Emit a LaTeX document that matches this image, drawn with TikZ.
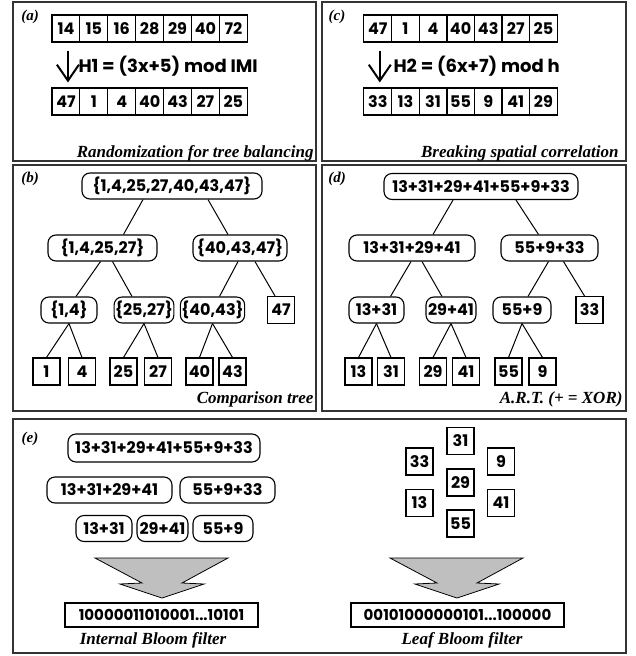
\documentclass[tikz,border=0pt]{standalone}
\usepackage{fontspec}
\setmainfont{Liberation Serif}
\newfontfamily\geofont{Poppins}
\usetikzlibrary{arrows.meta}
\tikzset{
  every picture/.style={line width=1pt},
  panel/.style={draw=black!80, line width=1.4pt},
  plabel/.style={inner sep=0pt, font=\fontsize{15}{15}\selectfont\bfseries\itshape},
  caption/.style={inner sep=0pt, font=\fontsize{17}{17}\selectfont\bfseries\itshape},
  geo/.style={font=\geofont\bfseries\fontsize{16}{16}\selectfont},
  cell/.style={geo, draw, line width=1.1pt, minimum width=27.9pt,
               minimum height=27pt, inner sep=0pt},
  leaf/.style={cell, minimum width=27pt},
  setbox/.style={geo, draw, rounded corners=8pt, line width=1.1pt,
                 minimum height=26pt, inner xsep=1pt, inner ysep=0pt},
  bitbox/.style={draw, line width=1.1pt, minimum height=24pt, inner sep=0pt,
                 font=\geofont\bfseries\fontsize{15}{15}\selectfont},
  formula/.style={anchor=west, inner sep=0pt,
                  font=\geofont\bfseries\fontsize{18}{18}\selectfont},
  downarr/.style={line width=2.2pt,
                  -{Straight Barb[length=16pt, width=22pt, line width=2pt]}},
  wedge/.style={draw, fill=black!25, line width=0.8pt, line join=miter},
}

\begin{document}
\begin{tikzpicture}[x=1pt, y=-1pt]
\useasboundingbox (0,0) rectangle (636,656);

% frames
\draw[panel] (13,2) rectangle (316,161);
\draw[panel] (322,2) rectangle (626,161);
\draw[panel] (13,165) rectangle (316,411);
\draw[panel] (322,165) rectangle (626,411);
\draw[panel] (13,419) rectangle (626,653);

\node[plabel] (labA) at (30,17) {(a)};
\node[plabel] (labC) at (337,17) {(c)};
\node[plabel] (labB) at (30,179) {(b)};
\node[plabel] (labD) at (337,179) {(d)};
\node[plabel] (labE) at (30,439) {(e)};

% (a) randomization
\foreach \v [count=\i] in {14,15,16,28,29,40,72}
  \node[cell] (inA\i) at ({52+27.9*(\i-0.5)},28.5) {\v};
\foreach \v [count=\i] in {47,1,4,40,43,27,25}
  \node[cell] (outA\i) at ({52+27.9*(\i-0.5)},101.5) {\v};
\draw[downarr] ([xshift=2pt,yshift=-8pt]inA1.south) -- ([xshift=2pt,yshift=5pt]outA1.north);
\node[formula] (hashA) at (78,66) {H1 = (3x+5) mod IMI};
\node[caption, anchor=east] (capA) at (314,153) {Randomization for tree balancing};

% (c) spatial correlation
\foreach \v [count=\i] in {47,1,4,40,43,27,25}
  \node[cell] (inC\i) at ({364+27.6*(\i-0.5)},28.5) {\v};
\foreach \v [count=\i] in {33,13,31,55,9,41,29}
  \node[cell] (outC\i) at ({364+27.6*(\i-0.5)},101.5) {\v};
\draw[downarr] ([xshift=2pt,yshift=-8pt]inC1.south) -- ([xshift=2pt,yshift=5pt]outC1.north);
\node[formula] (hashC) at (393,66) {H2 = (6x+7) mod h};
\node[caption, anchor=east] (capC) at (619,153) {Breaking spatial correlation};

% (b) comparison tree
\node[setbox, minimum width=180pt] (rootB) at (172,186) {\{1,4,25,27,40,43,47\}};
\node[setbox, minimum width=109pt] (setBL) at (102.5,248) {\{1,4,25,27\}};
\node[setbox, minimum width=94pt] (setBR) at (240,248) {\{40,43,47\}};
\node[setbox, minimum width=56pt] (setB1) at (69,310) {\{1,4\}};
\node[setbox, minimum width=56pt] (setB2) at (144,310) {\{25,27\}};
\node[setbox, minimum width=57pt] (setB3) at (212.5,310) {\{40,43\}};
\node[leaf] (leafB47) at (281,310) {47};
\node[leaf] (leafB1) at (46.5,371.5) {1};
\node[leaf] (leafB4) at (82,371.5) {4};
\node[leaf] (leafB25) at (123.5,371.5) {25};
\node[leaf] (leafB27) at (158,371.5) {27};
\node[leaf] (leafB40) at (199.5,371.5) {40};
\node[leaf] (leafB43) at (232.5,371.5) {43};
\draw ([xshift=-29pt]rootB.south) -- ([xshift=21pt]setBL.north);
\draw ([xshift=36pt]rootB.south) -- ([xshift=-12pt]setBR.north);
\draw ([xshift=-2pt]setBL.south) -- ([xshift=7pt]setB1.north);
\draw ([xshift=10pt]setBL.south) -- ([xshift=-12pt]setB2.north);
\draw ([xshift=-2pt]setBR.south) -- ([xshift=7pt]setB3.north);
\draw ([xshift=15pt]setBR.south) -- ([xshift=-6pt]leafB47.north);
\draw (setB1.south) -- (leafB1.north);
\draw (setB1.south) -- (leafB4.north);
\draw (setB2.south) -- (leafB25.north);
\draw (setB2.south) -- (leafB27.north);
\draw (setB3.south) -- (leafB40.north);
\draw (setB3.south) -- (leafB43.north);
\node[caption, anchor=east] (capB) at (314,399) {Comparison tree};

% (d) A.R.T.
\node[setbox, minimum width=194pt] (rootD) at (481,186.5) {13+31+29+41+55+9+33};
\node[setbox, minimum width=126pt] (sumDL) at (412,248) {13+31+29+41};
\node[setbox, minimum width=97pt] (sumDR) at (549.5,248) {55+9+33};
\node[setbox, minimum width=55pt] (sumD1) at (376.5,310) {13+31};
\node[setbox, minimum width=50pt] (sumD2) at (451,310) {29+41};
\node[setbox, minimum width=58pt] (sumD3) at (522,310) {55+9};
\node[leaf] (leafD33) at (589.5,310) {33};
\node[leaf] (leafD13) at (358.5,371.5) {13};
\node[leaf] (leafD31) at (391,371.5) {31};
\node[leaf] (leafD29) at (433,371.5) {29};
\node[leaf] (leafD41) at (466,371.5) {41};
\node[leaf] (leafD55) at (508.5,371.5) {55};
\node[leaf] (leafD9) at (542.5,371.5) {9};
\draw ([xshift=-28pt]rootD.south) -- ([xshift=21pt]sumDL.north);
\draw ([xshift=35pt]rootD.south) -- ([xshift=-11pt]sumDR.north);
\draw ([xshift=-1pt]sumDL.south) -- ([xshift=14pt]sumD1.north);
\draw ([xshift=10pt]sumDL.south) -- ([xshift=-9pt]sumD2.north);
\draw ([xshift=-1pt]sumDR.south) -- ([xshift=6pt]sumD3.north);
\draw ([xshift=14pt]sumDR.south) -- ([xshift=-5pt]leafD33.north);
\draw (sumD1.south) -- (leafD13.north);
\draw (sumD1.south) -- (leafD31.north);
\draw (sumD2.south) -- (leafD29.north);
\draw (sumD2.south) -- (leafD41.north);
\draw (sumD3.south) -- (leafD55.north);
\draw (sumD3.south) -- (leafD9.north);
\node[caption, anchor=east] (capD) at (623,399) {A.R.T. (+ = XOR)};

% (e) Bloom filters
\node[setbox, minimum width=192pt, minimum height=28pt] (bloomAll) at (164,448) {13+31+29+41+55+9+33};
\node[setbox, minimum width=125pt] (bloomL) at (109.5,490) {13+31+29+41};
\node[setbox, minimum width=95pt] (bloomR) at (227.5,490) {55+9+33};
\node[setbox, minimum width=56pt] (bloom1) at (104,528.5) {13+31};
\node[setbox, minimum width=51pt] (bloom2) at (162.5,528.5) {29+41};
\node[setbox, minimum width=60pt] (bloom3) at (223,528.5) {55+9};
\node[leaf] (bleaf31) at (460.5,441) {31};
\node[leaf] (bleaf33) at (419.5,461.5) {33};
\node[leaf] (bleaf9) at (501,461.5) {9};
\node[leaf] (bleaf29) at (460.5,482.5) {29};
\node[leaf] (bleaf13) at (419.5,503) {13};
\node[leaf] (bleaf41) at (501,503) {41};
\node[leaf] (bleaf55) at (460.5,523.5) {55};
\foreach \c in {162,457}
  \draw[wedge] (\c-67,558) -- (\c-20,583) -- (\c-42,584) -- (\c,598)
    -- (\c+42,584) -- (\c+20,583) -- (\c+66,558) -- cycle;
\node[bitbox, minimum width=193pt] (bitsL) at (161.5,615) {10000011010001...10101};
\node[bitbox, minimum width=213pt] (bitsR) at (457.5,615) {00101000000101...100000};
\node[caption] (capEL) at (153,640) {Internal Bloom filter};
\node[caption] (capER) at (462,640) {Leaf Bloom filter};
\end{tikzpicture}
\end{document}
